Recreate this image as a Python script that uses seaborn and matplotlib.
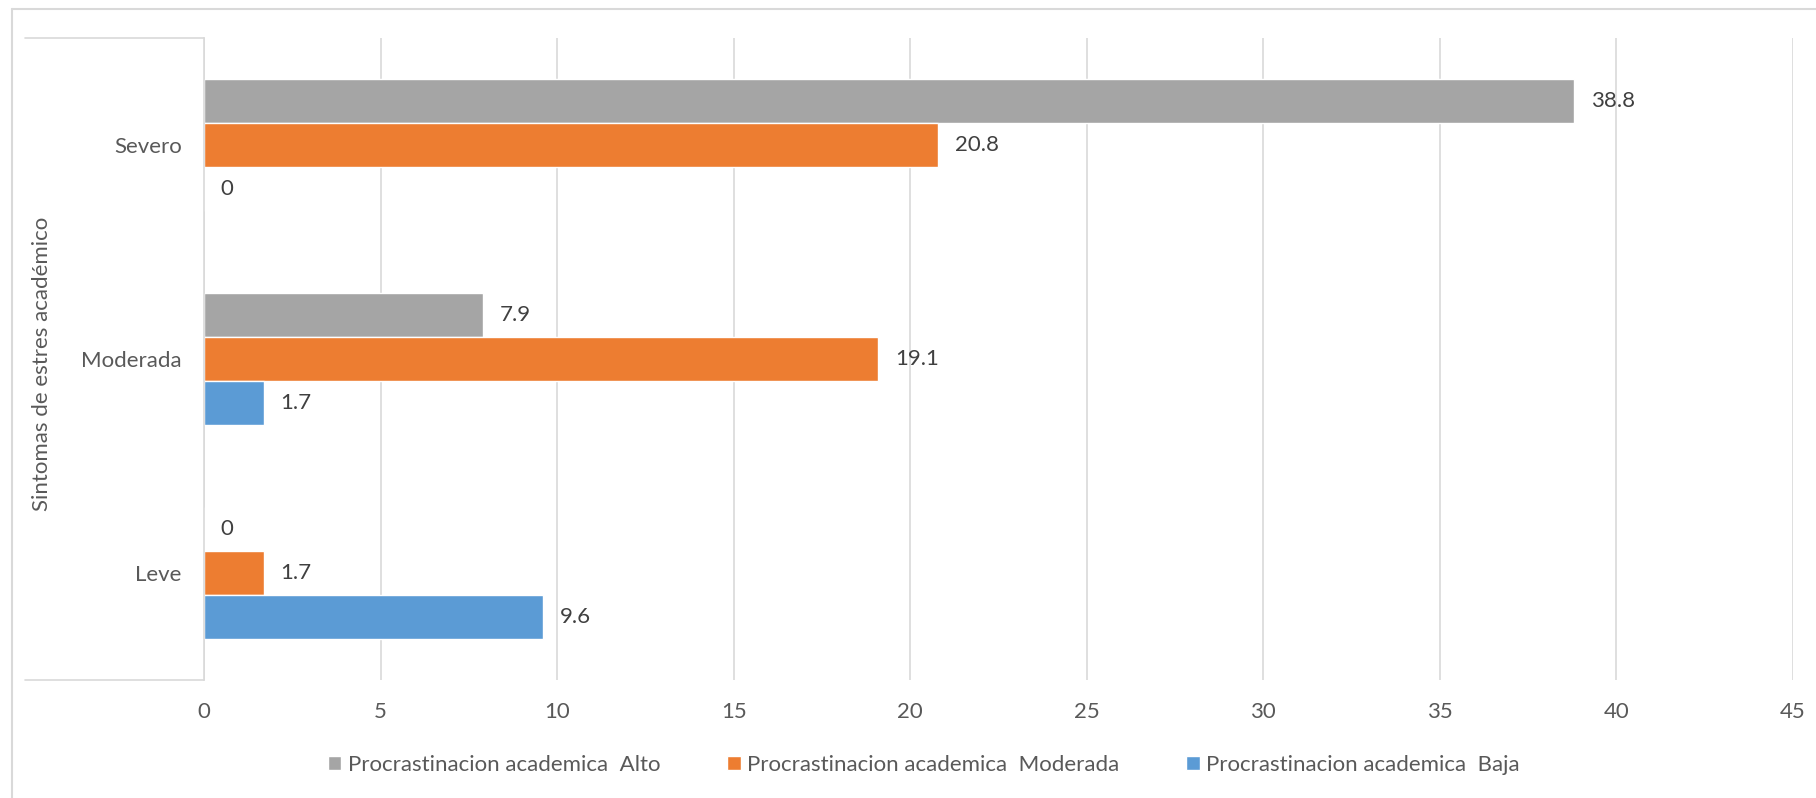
import matplotlib
matplotlib.use('Agg')
import matplotlib.pyplot as plt
import seaborn as sns
import pandas as pd
from matplotlib.lines import Line2D

# ---- data ----
categories = ['Severo', 'Moderada', 'Leve']
series = ['Procrastinacion academica  Alto',
          'Procrastinacion academica  Moderada',
          'Procrastinacion academica  Baja']
alto = [38.8, 7.9, 0]
moderada = [20.8, 19.1, 1.7]
baja = [0, 1.7, 9.6]
xticks = [0, 5, 10, 15, 20, 25, 30, 35, 40, 45]
colors = ['#A5A5A5', '#ED7D31', '#5B9BD5']
y_title = 'Sintomas de estres académico'

W, H = 1816, 798
sns.set_style('white')
plt.rcParams['font.family'] = ['Lato', 'DejaVu Sans']

df = pd.DataFrame({
    'cat': categories * 3,
    'serie': [s for s in series for _ in categories],
    'val': alto + moderada + baja,
})

fig = plt.figure(figsize=(W / 100, H / 100), dpi=100)
fig.patch.set_facecolor('white')
ax = fig.add_axes([204 / W, 1 - 680 / H, (1793 - 204) / W, (680 - 38) / H])

sns.barplot(data=df, x='val', y='cat', hue='serie', order=categories,
            hue_order=series, palette=colors, saturation=1, width=0.617,
            orient='h', errorbar=None, ax=ax)

for c in ax.containers:
    ax.bar_label(c, fmt='{:g}', padding=12, fontsize=16, color='#404040')

ax.set_xlim(0, 45)
ax.set_ylim(2.5, -0.5)
ax.set_xticks(xticks)
ax.set_xticklabels([str(t) for t in xticks])
ax.set_xlabel('')
ax.set_ylabel('')
ax.xaxis.grid(True, color='#D9D9D9', lw=1.2)
ax.yaxis.grid(False)
ax.set_axisbelow(True)
for s in ['top', 'right', 'bottom']:
    ax.spines[s].set_visible(False)
ax.spines['left'].set_color('#D9D9D9')
ax.spines['left'].set_linewidth(1.2)
ax.tick_params(axis='x', length=0, pad=16, labelsize=16, labelcolor='#595959')
ax.tick_params(axis='y', length=0, pad=16, labelsize=16, labelcolor='#595959')

# legend
handles, labels = ax.get_legend_handles_labels()
if ax.legend_ is not None:
    ax.legend_.remove()
fig.legend(handles, labels, loc='center', bbox_to_anchor=(924 / W, 1 - 765 / H),
           ncol=3, frameon=False, fontsize=16, handlelength=0.6, handleheight=0.6,
           handletextpad=0.3, columnspacing=3.0, labelcolor='#595959')

# axis title
fig.text(42 / W, 1 - 364 / H, y_title, rotation=90, ha='center', va='center',
         fontsize=16, color='#595959')

# chart border and category bracket lines
lc = '#D9D9D9'
fig.add_artist(Line2D([12 / W, 12 / W], [0, 1 - 9 / H], transform=fig.transFigure, color=lc, lw=1.5))
fig.add_artist(Line2D([12 / W, 1], [1 - 9 / H, 1 - 9 / H], transform=fig.transFigure, color=lc, lw=1.5))
fig.add_artist(Line2D([25 / W, 204 / W], [1 - 38 / H, 1 - 38 / H], transform=fig.transFigure, color=lc, lw=1.2))
fig.add_artist(Line2D([25 / W, 204 / W], [1 - 680 / H, 1 - 680 / H], transform=fig.transFigure, color=lc, lw=1.2))

fig.savefig('out.png', dpi=100, facecolor='white')
